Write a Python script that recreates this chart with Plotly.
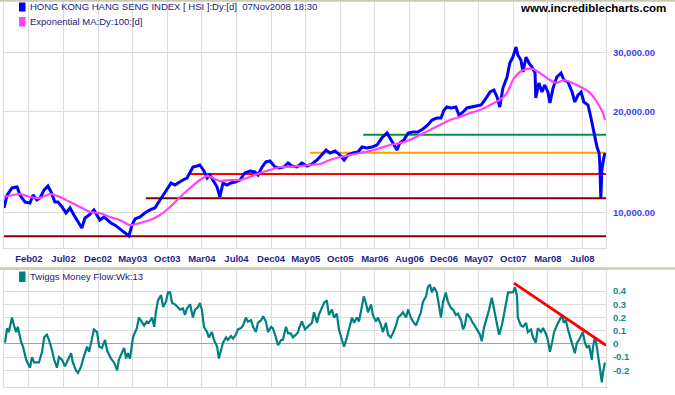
import math
import plotly.graph_objects as go

# ---------------- data (x = trading-day index from the chart's left edge) ----------------
price_days = [0, 9, 23, 38, 46, 61, 75, 84, 95, 104,
              116, 127, 136, 147, 156, 168, 179, 191, 202, 211,
              220, 225, 234, 246, 260, 269, 277, 289, 298, 309,
              321, 332, 341, 353, 361, 370, 379, 393, 407, 422,
              436, 451, 460, 471, 483, 494, 506, 517, 529, 538,
              546, 558, 566, 578, 587, 595, 604, 616, 624, 633,
              645, 656, 668, 682, 696, 711, 725, 734, 746, 757,
              769, 783, 795, 809, 821, 832, 847, 861, 876, 890,
              905, 919, 931, 942, 957, 971, 983, 994, 1009, 1023,
              1035, 1049, 1064, 1078, 1092, 1107, 1116, 1127, 1136, 1144,
              1156, 1168, 1182, 1196, 1211, 1225, 1237, 1251, 1263, 1272,
              1280, 1292, 1306, 1315, 1324, 1338, 1353, 1367, 1379, 1390,
              1405, 1416, 1425, 1433, 1442, 1454, 1462, 1471, 1480, 1485,
              1494, 1500, 1509, 1517, 1526, 1535, 1537, 1546, 1555, 1563,
              1572, 1578, 1587, 1598, 1610, 1618, 1630, 1642, 1650, 1659,
              1668, 1676, 1688, 1696, 1702, 1708, 1714, 1720, 1722, 1725,
              1728, 1734, 1737]
price_vals = [10330, 11290, 11850, 11930, 11290, 10760, 10690, 11290, 10910, 11060,
              11690, 12010, 11530, 10760, 10760, 10400, 9980, 10330, 9840, 9510,
              9180, 9000, 9640, 9840, 10190, 9840, 9510, 9710, 9510, 9320,
              9180, 9000, 8880, 8700, 8520, 9180, 9580, 9710, 9980, 10190,
              10330, 10910, 11290, 11690, 12260, 12090, 12350, 12520, 12690, 13230,
              13690, 13780, 13880, 13320, 12690, 12960, 12520, 11930, 11140, 12260,
              12090, 12260, 12350, 12520, 13140, 13320, 13230, 12960, 13690, 14170,
              14260, 13690, 13590, 13690, 14070, 13780, 13690, 14070, 13780, 13970,
              14360, 14860, 15380, 15070, 15280, 14860, 14360, 14860, 15070, 15170,
              15700, 15590, 15700, 15920, 16700, 17290, 16700, 15920, 15380, 16140,
              16480, 17290, 17410, 17410, 17770, 18270, 18900, 19160, 19160, 20250,
              20670, 20530, 20670, 19560, 19840, 20530, 20670, 20810, 20950, 21690,
              22910, 23230, 22140, 20670, 23540, 25390, 27960, 29130, 31210, 29540,
              28540, 26280, 29130, 27960, 27200, 26100, 21990, 24370, 22910, 24040,
              22910, 21240, 23540, 25390, 26100, 24880, 24540, 22910, 21390, 22440,
              22910, 21390, 20950, 19300, 17890, 16820, 15700, 15070, 14070, 11060,
              13410, 14660, 15070]

ema_days = [0, 46, 75, 104, 133, 162, 191, 220, 249, 277,
            306, 335, 364, 393, 422, 451, 480, 509, 538, 566,
            587, 604, 624, 653, 682, 711, 740, 769, 798, 827,
            855, 884, 913, 942, 971, 1000, 1029, 1058, 1087, 1116,
            1144, 1173, 1202, 1231, 1260, 1289, 1318, 1347, 1376, 1405,
            1433, 1454, 1471, 1491, 1511, 1529, 1549, 1578, 1598, 1616,
            1636, 1656, 1673, 1694, 1714, 1731, 1737]
ema_vals = [11140, 11370, 11140, 11060, 11370, 11140, 10760, 10400, 10050, 9980,
            9710, 9510, 9180, 9320, 9510, 9840, 10400, 11140, 11850, 12520,
            12870, 12690, 12430, 12520, 12520, 12780, 13140, 13410, 13690, 13690,
            13780, 13880, 13970, 14360, 14660, 14860, 15070, 15280, 15590, 15920,
            16140, 16480, 17050, 17650, 18270, 18900, 19300, 19840, 20250, 20950,
            21690, 22760, 24880, 26280, 26830, 26830, 26100, 24880, 24370, 24880,
            24540, 24040, 23540, 22760, 21390, 19840, 18900]

mf_days = [3, 9, 14, 23, 29, 35, 40, 49, 55, 64,
           75, 81, 87, 95, 101, 110, 116, 124, 130, 139,
           145, 153, 159, 168, 176, 185, 194, 199, 208, 214,
           223, 228, 240, 246, 254, 260, 269, 275, 283, 292,
           298, 309, 318, 327, 332, 341, 347, 353, 358, 364,
           370, 373, 379, 384, 390, 399, 405, 413, 419, 428,
           434, 439, 445, 454, 460, 468, 474, 480, 486, 494,
           503, 509, 517, 523, 529, 538, 546, 552, 561, 566,
           572, 578, 587, 592, 601, 607, 616, 621, 627, 633,
           642, 647, 656, 662, 670, 676, 685, 691, 699, 705,
           714, 720, 728, 734, 743, 749, 757, 763, 772, 777,
           786, 792, 801, 806, 815, 821, 829, 835, 844, 850,
           853, 861, 870, 879, 890, 896, 905, 910, 919, 925,
           933, 939, 948, 954, 962, 968, 977, 983, 991, 997,
           1006, 1012, 1020, 1026, 1035, 1040, 1046, 1052, 1061, 1066,
           1075, 1081, 1090, 1095, 1104, 1110, 1118, 1124, 1133, 1139,
           1147, 1153, 1162, 1168, 1176, 1182, 1191, 1196, 1205, 1211,
           1220, 1225, 1231, 1237, 1243, 1251, 1257, 1263, 1269, 1277,
           1283, 1292, 1298, 1306, 1312, 1321, 1327, 1332, 1338, 1347,
           1353, 1361, 1367, 1376, 1381, 1387, 1396, 1402, 1410, 1413,
           1419, 1425, 1431, 1439, 1445, 1451, 1457, 1465, 1471, 1477,
           1483, 1485, 1494, 1500, 1509, 1514, 1523, 1529, 1537, 1543,
           1552, 1558, 1566, 1572, 1578, 1584, 1590, 1598, 1604, 1613,
           1618, 1624, 1630, 1639, 1645, 1650, 1656, 1662, 1671, 1673,
           1679, 1685, 1691, 1699, 1702, 1708, 1714, 1717, 1722, 1728,
           1731, 1737]
mf_vals = [0.01, 0.12, 0.09, 0.20, 0.14, 0.09, 0.13, 0.02, -0.02, -0.12,
           -0.18, -0.10, -0.14, -0.14, -0.14, -0.06, 0.05, 0.07, 0.03, -0.05,
           -0.12, -0.18, -0.10, -0.12, -0.17, -0.12, -0.07, -0.14, -0.20, -0.22,
           -0.17, -0.12, -0.02, -0.06, 0.05, 0.11, 0.09, -0.02, -0.03, 0.03,
           -0.05, -0.11, -0.14, -0.20, -0.12, -0.07, -0.03, -0.11, -0.07, -0.11,
           0.02, 0.05, 0.09, 0.12, 0.20, 0.16, 0.14, 0.17, 0.16, 0.20,
           0.13, 0.24, 0.33, 0.37, 0.28, 0.32, 0.39, 0.39, 0.31, 0.30,
           0.28, 0.26, 0.27, 0.22, 0.27, 0.30, 0.20, 0.26, 0.28, 0.31,
           0.26, 0.13, 0.09, 0.05, 0.09, 0.03, -0.02, -0.11, -0.05, 0.01,
           0.05, 0.03, 0.06, 0.04, 0.07, 0.11, 0.12, 0.14, 0.20, 0.17,
           0.18, 0.13, 0.09, 0.16, 0.18, 0.21, 0.17, 0.09, 0.13, 0.12,
           0.05, -0.01, 0.03, 0.03, 0.13, 0.08, 0.08, 0.05, 0.07, 0.09,
           0.12, 0.17, 0.11, 0.13, 0.16, 0.24, 0.16, 0.22, 0.28, 0.31,
           0.33, 0.22, 0.26, 0.20, 0.23, 0.11, 0.03, -0.02, 0.05, 0.12,
           0.20, 0.16, 0.20, 0.17, 0.28, 0.36, 0.31, 0.24, 0.30, 0.22,
           0.17, 0.20, 0.14, 0.09, 0.16, 0.07, 0.05, 0.08, 0.14, 0.20,
           0.22, 0.24, 0.20, 0.26, 0.20, 0.17, 0.14, 0.18, 0.24, 0.32,
           0.36, 0.43, 0.45, 0.39, 0.43, 0.39, 0.28, 0.20, 0.32, 0.39,
           0.32, 0.27, 0.26, 0.22, 0.23, 0.18, 0.11, 0.14, 0.23, 0.20,
           0.17, 0.14, 0.11, 0.07, 0.02, 0.12, 0.20, 0.26, 0.35, 0.31,
           0.22, 0.14, 0.07, 0.14, 0.23, 0.31, 0.39, 0.39, 0.39, 0.43,
           0.36, 0.20, 0.14, 0.13, 0.16, 0.09, 0.11, 0.05, 0.01, 0.12,
           0.09, 0.12, 0.08, 0.03, -0.06, 0.01, 0.09, 0.14, 0.17, 0.22,
           0.16, 0.18, 0.11, 0.03, -0.03, -0.07, 0.01, 0.03, 0.08, 0.09,
           0.01, -0.03, -0.01, -0.12, -0.03, 0.05, -0.03, -0.08, -0.17, -0.29,
           -0.22, -0.14]

# horizontal support / resistance levels drawn on the price panel
level_vals = [8500, 11050, 13050, 15100, 17080]
level_start_days = [0, 410, 538, 884, 1038]
level_colors = ["#800000", "#800000", "#ff0000", "#ffa000", "#00963c"]

# falling trend line on the money-flow panel
trend_days = [1474, 1740]
trend_vals = [0.46, -0.01]

chart_end_day = 1740
tick_days = [72, 172, 272, 372, 472, 572, 672, 772, 872, 972,
             1072, 1172, 1272, 1372, 1472, 1572, 1672]
tick_labels = ["Feb02", "Jul02", "Dec02", "May03", "Oct03", "Mar04", "Jul04", "Dec04",
               "May05", "Oct05", "Mar06", "Aug06", "Dec06", "May07", "Oct07", "Mar08", "Jul08"]
price_ticks = [10000, 20000, 30000]
price_tick_text = ["10,000.00", "20,000.00", "30,000.00"]
mf_ticks = [-0.2, -0.1, 0, 0.1, 0.2, 0.3, 0.4]
mf_tick_text = ["-0.2", "-0.1", "0", "0.1", "0.2", "0.3", "0.4"]

# ---------------- figure ----------------
W, H = 675, 395
FONT = "Liberation Sans, Arial, sans-serif"
GRID = "#dcdcdc"

def px_x(p):
    return p / W

def px_y(p):
    return 1 - p / H

fig = go.Figure()

for lv, st, col in zip(level_vals, level_start_days, level_colors):
    fig.add_trace(go.Scatter(x=[st, chart_end_day], y=[lv, lv], mode="lines",
                             line=dict(color=col, width=2), xaxis="x", yaxis="y",
                             hoverinfo="skip", showlegend=False, cliponaxis=False))

fig.add_trace(go.Scatter(x=price_days, y=price_vals, mode="lines",
                         line=dict(color="#0000ff", width=3), xaxis="x", yaxis="y",
                         name="HONG KONG HANG SENG INDEX", showlegend=False))
fig.add_trace(go.Scatter(x=ema_days, y=ema_vals, mode="lines",
                         line=dict(color="#ff40ff", width=2.2, shape="spline", smoothing=0.6),
                         xaxis="x", yaxis="y", name="Exponential MA", showlegend=False))

fig.add_trace(go.Scatter(x=mf_days, y=mf_vals, mode="lines",
                         line=dict(color="#008080", width=2.2), xaxis="x2", yaxis="y2",
                         name="Twiggs Money Flow", showlegend=False))
fig.add_trace(go.Scatter(x=trend_days, y=trend_vals, mode="lines",
                         line=dict(color="#ff0000", width=2.8), xaxis="x2", yaxis="y2",
                         hoverinfo="skip", showlegend=False))

xdom = [px_x(4), px_x(606)]
top_dom = [px_y(248), px_y(1)]
bot_dom = [px_y(387), px_y(270)]

common_x = dict(domain=xdom, range=[0, chart_end_day], tickmode="array", tickvals=tick_days,
                showgrid=True, gridcolor=GRID, gridwidth=1, zeroline=False,
                showline=True, linecolor=GRID, linewidth=1, mirror=True, fixedrange=True)

fig.update_layout(
    width=W, height=H, autosize=False,
    margin=dict(l=0, r=0, t=0, b=0),
    paper_bgcolor="white", plot_bgcolor="white",
    showlegend=False,
    xaxis=dict(**common_x, anchor="y", ticktext=tick_labels, ticks="outside", ticklen=2,
               tickcolor="rgba(0,0,0,0)",
               tickfont=dict(family=FONT, size=9.5, color="#1f1f8f", weight="bold")),
    yaxis=dict(domain=top_dom, type="log",
               range=[math.log10(7847), math.log10(42800)],
               side="right", anchor="x", tickmode="array", tickvals=price_ticks,
               ticktext=price_tick_text, ticks="outside", ticklen=4,
               tickcolor="rgba(0,0,0,0)", showgrid=True, gridcolor=GRID, zeroline=False,
               showline=True, linecolor=GRID, mirror=True,
               tickfont=dict(family=FONT, size=9.5, color="#3a3aff", weight="bold")),
    xaxis2=dict(**common_x, anchor="y2", ticktext=["" for _ in tick_labels],
                showticklabels=False),
    yaxis2=dict(domain=bot_dom, range=[-0.326, 0.56], side="right", anchor="x2",
                tickmode="array", tickvals=mf_ticks, ticktext=mf_tick_text,
                ticks="outside", ticklen=4, tickcolor="rgba(0,0,0,0)",
                showgrid=True, gridcolor=GRID, zeroline=True, zerolinecolor="#9a9ad6",
                zerolinewidth=1, showline=True, linecolor=GRID, mirror=True,
                tickfont=dict(family=FONT, size=9.5, color="#108a8a", weight="bold")),
)

shapes = [
    # panel frames / separators
    dict(type="line", xref="paper", yref="paper", x0=0, x1=1, y0=px_y(0.8), y1=px_y(0.8),
         line=dict(color="#cbcbb5", width=2)),
    dict(type="line", xref="paper", yref="paper", x0=0, x1=1, y0=px_y(268.5), y1=px_y(268.5),
         line=dict(color="#cbcbb5", width=2.5)),
    # legend swatches
    dict(type="rect", xref="paper", yref="paper", x0=px_x(19), x1=px_x(25.5),
         y0=px_y(11.5), y1=px_y(2.5), fillcolor="#0000ff", line=dict(width=0)),
    dict(type="rect", xref="paper", yref="paper", x0=px_x(19), x1=px_x(25.5),
         y0=px_y(26.5), y1=px_y(17), fillcolor="#ff40ff", line=dict(width=0)),
    dict(type="rect", xref="paper", yref="paper", x0=px_x(19), x1=px_x(25.5),
         y0=px_y(282), y1=px_y(271.5), fillcolor="#008080", line=dict(width=0)),
]
fig.update_layout(shapes=shapes)

ann_font = dict(family=FONT, size=9.5, color="#1a1a80")
annotations = [
    dict(text="HONG KONG HANG SENG INDEX [ HSI ]:Dy:[d]  07Nov2008 18:30",
         x=px_x(29), y=px_y(7), xanchor="left", yanchor="middle"),
    dict(text="Exponential MA:Dy:100:[d]",
         x=px_x(29), y=px_y(22), xanchor="left", yanchor="middle"),
    dict(text="Twiggs Money Flow:Wk:13",
         x=px_x(29), y=px_y(276.5), xanchor="left", yanchor="middle"),
]
for a in annotations:
    a.update(xref="paper", yref="paper", showarrow=False, font=ann_font, borderpad=0)
annotations.append(dict(text="<b>www.incrediblecharts.com</b>", xref="paper", yref="paper",
                        x=px_x(518), y=px_y(8), xanchor="left", yanchor="middle",
                        showarrow=False, font=dict(family=FONT, size=11.5, color="#000000")))
fig.update_layout(annotations=annotations)

# remove the browser's default 8px page margin so the chart fills the window exactly
fig.write_html("out.html", config={"displayModeBar": False, "staticPlot": True},
               post_script="document.body.style.margin='0px';document.body.style.padding='0px';")
